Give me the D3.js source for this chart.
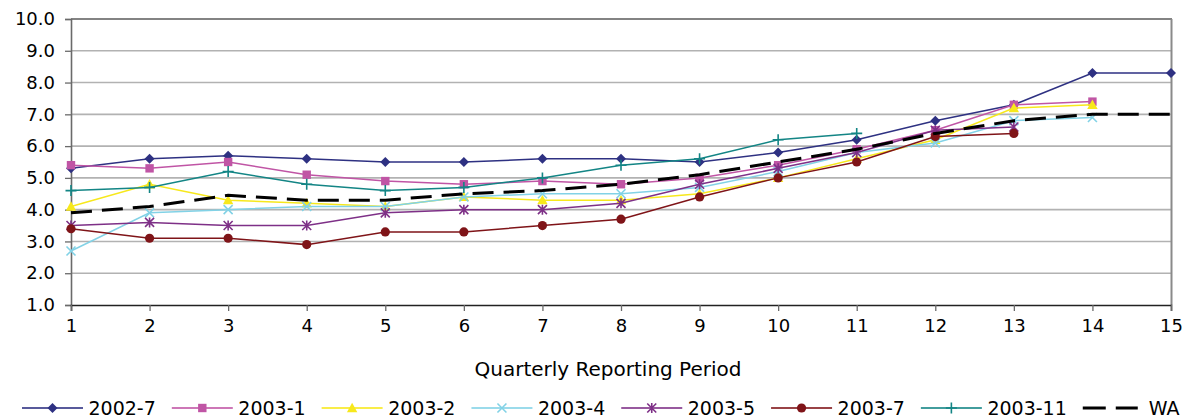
<!DOCTYPE html>
<html>
<head>
<meta charset="utf-8">
<script src="https://cdn.jsdelivr.net/npm/d3@7"></script>
<style>
  body { margin: 0; background: #fff; }
  text { font-family: "DejaVu Sans", Verdana, sans-serif; fill: #000; }
</style>
</head>
<body>
<svg id="chart" width="1187" height="419"></svg>
<script>
// Quarterly reporting periods and y-axis ticks
const periods = d3.range(1, 16);
const yTicks = d3.range(1, 11);

// Cohort series (values by quarterly reporting period)
const seriesNames = ["2002-7", "2003-1", "2003-2", "2003-4", "2003-5", "2003-7", "2003-11", "WA"];
const v2002_7  = [5.3, 5.6, 5.7, 5.6, 5.5, 5.5, 5.6, 5.6, 5.5, 5.8, 6.2, 6.8, 7.3, 8.3, 8.3];
const v2003_1  = [5.4, 5.3, 5.5, 5.1, 4.9, 4.8, 4.9, 4.8, 5.0, 5.4, 5.9, 6.5, 7.3, 7.4];
const v2003_2  = [4.1, 4.8, 4.3, 4.2, 4.1, 4.4, 4.3, 4.3, 4.5, 5.0, 5.6, 6.2, 7.2, 7.3];
const v2003_4  = [2.7, 3.9, 4.0, 4.1, 4.1, 4.4, 4.5, 4.5, 4.7, 5.2, 5.8, 6.1, 6.8, 6.9];
const v2003_5  = [3.5, 3.6, 3.5, 3.5, 3.9, 4.0, 4.0, 4.2, 4.8, 5.3, 5.8, 6.5, 6.6];
const v2003_7  = [3.4, 3.1, 3.1, 2.9, 3.3, 3.3, 3.5, 3.7, 4.4, 5.0, 5.5, 6.3, 6.4];
const v2003_11 = [4.6, 4.7, 5.2, 4.8, 4.6, 4.7, 5.0, 5.4, 5.6, 6.2, 6.4];
const vWA      = [3.9, 4.1, 4.45, 4.3, 4.3, 4.5, 4.6, 4.8, 5.1, 5.5, 5.9, 6.4, 6.8, 7.0, 7.0];

const seriesValues = [v2002_7, v2003_1, v2003_2, v2003_4, v2003_5, v2003_7, v2003_11, vWA];
const seriesColors = ["#2e3182", "#c055a5", "#f7e81c", "#82d2e6", "#7e3087", "#7f1418", "#138585", "#000000"];
const seriesMarkers = ["diamond", "square", "triangle", "cross", "star", "circle", "plus", "none"];

const svg = d3.select("#chart");

const x = d3.scaleLinear().domain([1, 15]).range([71, 1171]);
const y = d3.scaleLinear().domain([1, 10]).range([305, 19]);

// Horizontal gridlines
svg.append("g")
  .selectAll("line")
  .data(yTicks.filter(t => t > 1 && t < 10))
  .join("line")
  .attr("x1", x(1)).attr("x2", x(15))
  .attr("y1", d => y(d)).attr("y2", d => y(d))
  .attr("stroke", "#b2b2b2").attr("stroke-width", 1.6);

// Plot frame: top and right borders
svg.append("line")
  .attr("x1", x(1)).attr("x2", x(15) + 1)
  .attr("y1", y(10)).attr("y2", y(10))
  .attr("stroke", "#5a5a5a").attr("stroke-width", 1.6);
svg.append("line")
  .attr("x1", x(15) + 0.5).attr("x2", x(15) + 0.5)
  .attr("y1", y(10)).attr("y2", y(1))
  .attr("stroke", "#8a8a8a").attr("stroke-width", 2);

// Y axis
const yAxis = svg.append("g")
  .attr("transform", `translate(${x(1)},0)`)
  .call(d3.axisLeft(y).tickValues(yTicks).tickFormat(d3.format(".1f")).tickSize(6).tickPadding(10));
yAxis.select(".domain").attr("stroke", "#6a6a6a").attr("stroke-width", 1.6);
yAxis.selectAll(".tick line").attr("stroke", "#6a6a6a").attr("stroke-width", 1.3);
yAxis.selectAll(".tick text").style("font-size", "18px").attr("fill", "#111");

// X axis
const xAxis = svg.append("g")
  .attr("transform", `translate(0,${y(1)})`)
  .call(d3.axisBottom(x).tickValues(periods).tickFormat(d3.format("d")).tickSize(6).tickPadding(8));
xAxis.select(".domain").attr("stroke", "#222").attr("stroke-width", 1.6);
xAxis.selectAll(".tick line").attr("stroke", "#6a6a6a").attr("stroke-width", 1.3);
xAxis.selectAll(".tick text").style("font-size", "18px").attr("fill", "#111");

// Axis title
svg.append("text")
  .attr("x", 608).attr("y", 376)
  .attr("text-anchor", "middle")
  .style("font-size", "20px")
  .attr("fill", "#111")
  .text("Quarterly Reporting Period");

// Marker shapes
function drawMarker(g, type, color, cx, cy) {
  if (type === "diamond") {
    const s = 5;
    g.append("path").attr("d", `M${cx},${cy - s}L${cx + s},${cy}L${cx},${cy + s}L${cx - s},${cy}Z`).attr("fill", color);
  } else if (type === "square") {
    const s = 4.2;
    g.append("rect").attr("x", cx - s).attr("y", cy - s).attr("width", 2 * s).attr("height", 2 * s).attr("fill", color);
  } else if (type === "triangle") {
    const s = 5.2;
    g.append("path").attr("d", `M${cx},${cy - s}L${cx + s},${cy + s * 0.8}L${cx - s},${cy + s * 0.8}Z`).attr("fill", color);
  } else if (type === "cross") {
    const s = 4.5;
    g.append("path").attr("d", `M${cx - s},${cy - s}L${cx + s},${cy + s}M${cx - s},${cy + s}L${cx + s},${cy - s}`)
      .attr("stroke", color).attr("stroke-width", 1.6);
  } else if (type === "star") {
    const s = 4.5;
    g.append("path").attr("d", `M${cx - s},${cy - s}L${cx + s},${cy + s}M${cx - s},${cy + s}L${cx + s},${cy - s}M${cx},${cy - s - 0.5}L${cx},${cy + s + 0.5}`)
      .attr("stroke", color).attr("stroke-width", 1.6);
  } else if (type === "circle") {
    g.append("circle").attr("cx", cx).attr("cy", cy).attr("r", 4.6).attr("fill", color);
  } else if (type === "plus") {
    const s = 5.5;
    g.append("path").attr("d", `M${cx - s},${cy}L${cx + s},${cy}M${cx},${cy - s}L${cx},${cy + s}`)
      .attr("stroke", color).attr("stroke-width", 1.6);
  }
}

const line = d3.line().x((d, i) => x(periods[i])).y(d => y(d));

// Series lines and markers
seriesNames.forEach((name, k) => {
  const vals = seriesValues[k];
  const g = svg.append("g");
  const isAvg = seriesMarkers[k] === "none";
  g.append("path")
    .datum(vals)
    .attr("d", line)
    .attr("fill", "none")
    .attr("stroke", seriesColors[k])
    .attr("stroke-width", isAvg ? 3 : 1.5)
    .attr("stroke-dasharray", isAvg ? "21,10" : null);
  vals.forEach((v, i) => drawMarker(g, seriesMarkers[k], seriesColors[k], x(periods[i]), y(v)));
});

// Legend
const legend = svg.append("g");
let lx = 22;
const ly = 408;
seriesNames.forEach((name, k) => {
  const g = legend.append("g");
  const isAvg = seriesMarkers[k] === "none";
  const lineLen = isAvg ? 55 : 61;
  g.append("line")
    .attr("x1", lx).attr("x2", lx + lineLen)
    .attr("y1", ly).attr("y2", ly)
    .attr("stroke", seriesColors[k])
    .attr("stroke-opacity", isAvg ? 1 : 0.8)
    .attr("stroke-width", isAvg ? 3 : 1.8)
    .attr("stroke-dasharray", isAvg ? "23,10" : null);
  drawMarker(g, seriesMarkers[k], seriesColors[k], lx + lineLen / 2, ly);
  const t = g.append("text")
    .attr("x", lx + lineLen + (isAvg ? 11 : 5.5)).attr("y", ly + 6.5)
    .style("font-size", "19px")
    .attr("fill", "#111")
    .text(name);
  lx = lx + lineLen + 5.5 + t.node().getComputedTextLength() + 16;
});
</script>
</body>
</html>
